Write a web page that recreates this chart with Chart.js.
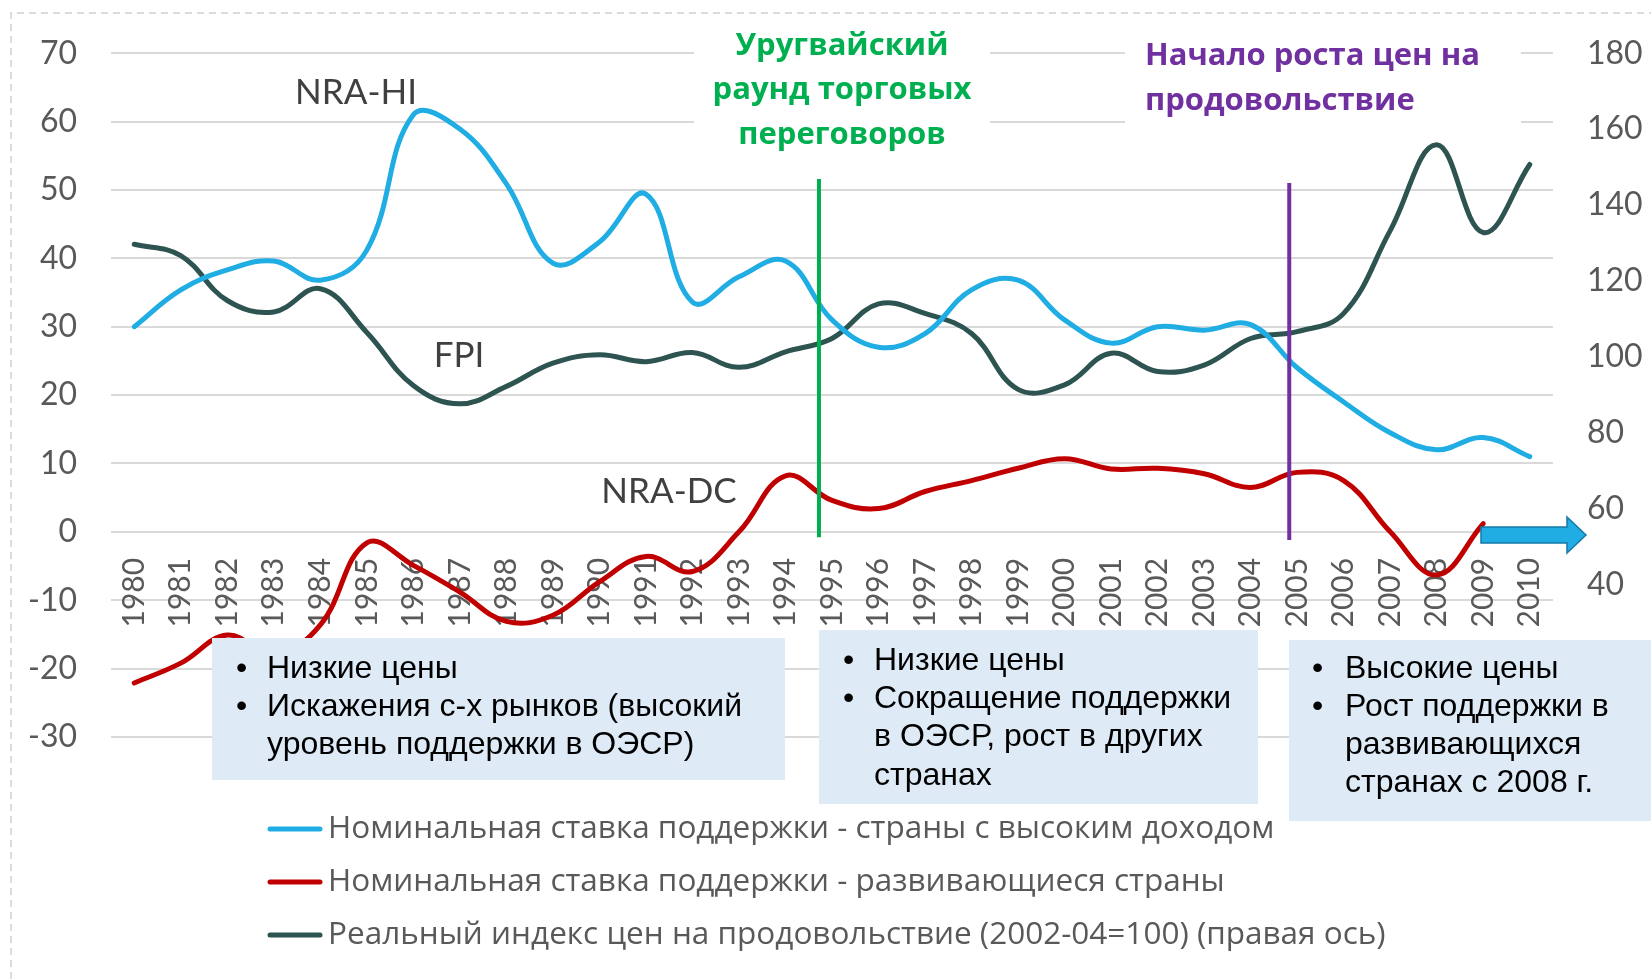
<!DOCTYPE html>
<html><head><meta charset="utf-8">
<script src="https://cdn.jsdelivr.net/npm/chart.js@4.4.1/dist/chart.umd.min.js"></script>
<style>html,body{margin:0;padding:0;background:#fff;} #wrap{width:1651px;height:979px;position:relative;}</style>
</head><body><div id="wrap"><canvas id="c" width="1651" height="979"></canvas></div>
<script>
// ---- data ----
const years = ['1980','1981','1982','1983','1984','1985','1986','1987','1988','1989','1990','1991','1992','1993','1994','1995','1996','1997','1998','1999','2000','2001','2002','2003','2004','2005','2006','2007','2008','2009','2010'];
const nraHI = [30,35.4,38.3,39.6,36.8,41.2,61,58.9,50.9,39.3,42.4,49.4,33.6,37.3,39.6,31,27,29,35.4,36.8,31,27.6,30,29.5,30.3,24,19,14.5,12,13.8,11];
const nraDC = [-22.1,-19.2,-15.1,-18,-13.6,-1.6,-4.9,-8.8,-13.1,-12.2,-7.3,-3.6,-5.8,0,8.2,4.6,3.4,5.9,7.5,9.3,10.7,9.2,9.3,8.5,6.5,8.7,7.5,0,-6.3,1.2,null];
const fpi = [129.7,126.7,114.9,111.9,118,106.5,92.5,87.7,92.3,98.4,100.6,98.8,101.2,97.3,101.4,104.9,114,111.5,106.2,91.5,92.7,101,96.2,97.9,104.9,106.7,111.5,133.3,155.9,132.8,150.7];
const seriesNames = [
  'Номинальная ставка поддержки - страны с высоким доходом',
  'Номинальная ставка поддержки - развивающиеся страны',
  'Реальный индекс цен на продовольствие (2002-04=100) (правая ось)'
];
const leftTicks = {min: -30, max: 70, step: 10};
const rightTicks = {min: 0, max: 180, step: 20, firstShown: 40};
const seriesTags = ['NRA-HI', 'NRA-DC', 'FPI'];
const greenTitle = ['Уругвайский', 'раунд торговых', 'переговоров'];
const purpleTitle = ['Начало роста цен на', 'продовольствие'];
const box1 = ['Низкие цены', 'Искажения с-х рынков (высокий', 'уровень поддержки в ОЭСР)'];
const box2 = ['Низкие цены', 'Сокращение поддержки', 'в ОЭСР, рост в других', 'странах'];
const box3 = ['Высокие цены', 'Рост поддержки в', 'развивающихся', 'странах с 2008 г.'];
const eventGreen = 14.72;   // category position (between 1994 and 1995)
const eventPurple = 24.83;  // category position (just before 2005)

const BLUE = '#1FADE4', RED = '#C00000', DARK = '#2D5451';
const GREEN = '#00B050', PURPLE = '#7030A0';
const FONT = "Lato, 'Open Sans', sans-serif";
const CYR = "'Open Sans', 'Noto Sans', sans-serif";
const BOXFONT = "'Liberation Sans', Arial, sans-serif";

const overlay = {
  id: 'overlay',
  beforeDatasetsDraw(chart) {
    const ctx = chart.ctx;
    ctx.save();
    ctx.fillStyle = '#fff';
    ctx.fillRect(694, 18, 296, 140);
    ctx.fillRect(1125, 18, 396, 130);
    ctx.restore();
  },
  afterDatasetsDraw(chart) {
    const ctx = chart.ctx, x = chart.scales.x, y = chart.scales.y;
    ctx.save();
    // event lines
    ctx.lineWidth = 4;
    ctx.strokeStyle = GREEN;
    ctx.beginPath();
    ctx.moveTo(x.getPixelForValue(eventGreen), y.getPixelForValue(51.6));
    ctx.lineTo(x.getPixelForValue(eventGreen), y.getPixelForValue(-0.8));
    ctx.stroke();
    ctx.strokeStyle = PURPLE;
    ctx.beginPath();
    ctx.moveTo(x.getPixelForValue(eventPurple), y.getPixelForValue(51.0));
    ctx.lineTo(x.getPixelForValue(eventPurple), y.getPixelForValue(-1.2));
    ctx.stroke();
    // titles
    ctx.font = "bold 31px " + CYR;
    ctx.fillStyle = GREEN;
    ctx.textAlign = 'center'; ctx.textBaseline = 'middle';
    greenTitle.forEach((t, i) => ctx.fillText(t, 842, 46 + i * 44.5));
    ctx.fillStyle = PURPLE;
    ctx.textAlign = 'left';
    purpleTitle.forEach((t, i) => ctx.fillText(t, 1145, 56 + i * 45));
    // series tags
    ctx.font = "35px " + FONT;
    ctx.fillStyle = '#404040';
    ctx.textAlign = 'center';
    ctx.fillText(seriesTags[0], 356, 93);
    ctx.fillText(seriesTags[1], 669, 492);
    ctx.fillText(seriesTags[2], 459, 356);
    ctx.restore();
  },
  afterDraw(chart) {
    const ctx = chart.ctx;
    ctx.save();
    // text boxes
    const drawBox = (x0, y0, w, h, lines, bulletLines, ys, bx, tx) => {
      ctx.fillStyle = '#DEEBF7';
      ctx.fillRect(x0, y0, w, h);
      ctx.fillStyle = '#000';
      ctx.font = "32px " + BOXFONT;
      ctx.textAlign = 'left'; ctx.textBaseline = 'middle';
      lines.forEach((t, i) => {
        if (bulletLines.includes(i)) ctx.fillText('•', bx, ys[i]);
        ctx.fillText(t, tx, ys[i]);
      });
    };
    drawBox(212, 638, 573, 142, box1, [0, 1], [669, 707.5, 745.5], 236, 267);
    drawBox(819, 630, 439, 174, box2, [0, 1], [661, 699, 737, 776], 843, 874);
    drawBox(1289, 640, 362, 181, box3, [0, 1], [669, 707, 745, 783], 1312, 1345);
    // arrow
    ctx.beginPath();
    ctx.moveTo(1481, 527); ctx.lineTo(1567, 527); ctx.lineTo(1567, 517);
    ctx.lineTo(1586, 535); ctx.lineTo(1567, 553); ctx.lineTo(1567, 543);
    ctx.lineTo(1481, 543); ctx.closePath();
    ctx.fillStyle = '#1FADE4'; ctx.fill();
    ctx.strokeStyle = '#1579A6'; ctx.lineWidth = 1.5; ctx.stroke();
    // legend
    const colors = [BLUE, RED, DARK];
    ctx.font = "31.5px " + CYR;
    ctx.textAlign = 'left'; ctx.textBaseline = 'middle';
    seriesNames.forEach((name, i) => {
      const yy = 829 + i * 53;
      ctx.strokeStyle = colors[i]; ctx.lineWidth = 5; ctx.lineCap = 'round';
      ctx.beginPath(); ctx.moveTo(270, yy); ctx.lineTo(320, yy); ctx.stroke();
      ctx.fillStyle = '#595959';
      ctx.fillText(name, 328, yy);
    });
    // dashed frame
    ctx.strokeStyle = '#D0D0D0'; ctx.lineWidth = 1.5; ctx.lineCap = 'butt';
    ctx.setLineDash([7, 5]);
    ctx.beginPath(); ctx.moveTo(11, 979); ctx.lineTo(11, 13); ctx.lineTo(1651, 13); ctx.stroke();
    ctx.restore();
  }
};

new Chart(document.getElementById('c'), {
  type: 'line',
  data: {
    labels: years,
    datasets: [
      {label: seriesNames[0], data: nraHI, yAxisID: 'y', borderColor: BLUE, backgroundColor: BLUE},
      {label: seriesNames[1], data: nraDC, yAxisID: 'y', borderColor: RED, backgroundColor: RED},
      {label: seriesNames[2], data: fpi, yAxisID: 'y1', borderColor: DARK, backgroundColor: DARK}
    ]
  },
  options: {
    responsive: false,
    animation: false,
    layout: {padding: {left: 0, right: 0, top: 44, bottom: 242}},
    elements: {
      line: {borderWidth: 5, tension: 0.4, borderCapStyle: 'round'},
      point: {radius: 0, hoverRadius: 0}
    },
    plugins: {legend: {display: false}, tooltip: {enabled: false}},
    scales: {
      x: {
        type: 'category',
        position: {y: 0},
        offset: true,
        grid: {display: false, drawTicks: false},
        border: {display: false},
        ticks: {autoSkip: false, minRotation: 90, maxRotation: 90, padding: 26,
                color: '#595959', font: {family: FONT, size: 30}}
      },
      y: {
        position: 'left',
        min: leftTicks.min, max: leftTicks.max,
        grid: {color: '#D9D9D9', lineWidth: 2, drawTicks: false},
        border: {display: false},
        ticks: {stepSize: leftTicks.step, padding: 34, color: '#595959', font: {family: FONT, size: 32}},
        afterFit(s) { s.width = 111; }
      },
      y1: {
        position: 'right',
        min: rightTicks.min, max: rightTicks.max,
        grid: {display: false, drawTicks: false},
        border: {display: false},
        ticks: {stepSize: rightTicks.step, padding: 34, color: '#595959', font: {family: FONT, size: 32},
                callback: v => v >= rightTicks.firstShown ? String(v) : ''},
        afterFit(s) { s.width = 98; }
      }
    }
  },
  plugins: [overlay]
});
</script>
</body></html>
